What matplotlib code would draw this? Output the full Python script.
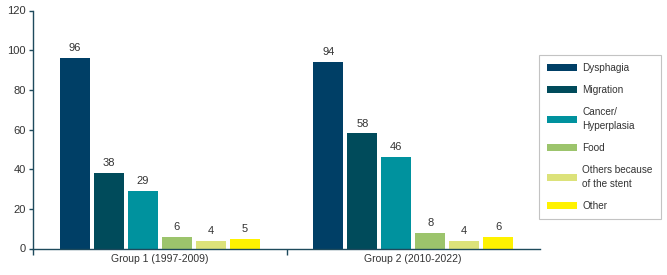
import matplotlib
matplotlib.use("Agg")
import numpy as np
import matplotlib.pyplot as plt

plt.rcParams["font.family"] = ["Liberation Sans", "DejaVu Sans"]

GROUPS = ["Group 1 (1997-2009)", "Group 2 (2010-2022)"]
CAUSES = ["Dysphagia", "Migration", "Cancer/\nHyperplasia", "Food",
          "Others because\nof the stent", "Other"]
VALUES = {
    "Dysphagia": [96, 94],
    "Migration": [38, 58],
    "Cancer/\nHyperplasia": [29, 46],
    "Food": [6, 8],
    "Others because\nof the stent": [4, 4],
    "Other": [5, 6],
}
COLORS = ["#003F66", "#004B5B", "#00929E", "#9CC46C", "#DCE27A", "#FFF200"]
AXIS_C = "#1E4A5C"
TEXT_C = "#333333"

fig = plt.figure(figsize=(6.67, 2.75), dpi=100)
ax = fig.add_axes([33 / 667, 1 - 248.5 / 275, 507 / 667, 238 / 275])

x = np.arange(len(GROUPS))
pitch, width = 0.134, 0.118
for i, (cause, color) in enumerate(zip(CAUSES, COLORS)):
    vals = VALUES[cause]
    bars = ax.bar(x + (i - 2.5) * pitch, vals, width, color=color, label=cause)
    for b, v in zip(bars, vals):
        ax.annotate(f"{v}", (b.get_x() + b.get_width() / 2, v),
                    xytext=(0, 3.5), textcoords="offset points",
                    ha="center", va="bottom", fontsize=8, color=TEXT_C)

ax.set_xlim(-0.5, 1.5)
ax.set_ylim(0, 120)
ax.set_yticks(range(0, 121, 20))
ax.set_xticks(x)
ax.set_xticklabels(GROUPS)
ax.set_xticks([-0.5, 0.5], minor=True)
ax.tick_params(axis="x", which="major", length=0, pad=4, labelsize=7.5, labelcolor=TEXT_C)
ax.tick_params(axis="x", which="minor", length=4, width=1, color=AXIS_C, direction="out")
ax.tick_params(axis="y", length=3, width=1, color=AXIS_C, labelsize=8,
               labelcolor=TEXT_C, pad=2)
for s in ["top", "right"]:
    ax.spines[s].set_visible(False)
for s in ["left", "bottom"]:
    ax.spines[s].set_color(AXIS_C)
    ax.spines[s].set_linewidth(1)

leg = fig.legend(loc="upper left", bbox_to_anchor=(539 / 667, 1 - 55 / 275),
                 fontsize=7.2, frameon=True, fancybox=False, edgecolor="#B5B5B5",
                 handlelength=3.0, handleheight=0.72, handletextpad=0.55,
                 labelspacing=1.2, borderpad=0.8, borderaxespad=0)
leg.get_frame().set_linewidth(0.8)
for t in leg.get_texts():
    t.set_color(TEXT_C)
    t.set_linespacing(1.5)

fig.savefig("out.png", dpi=100)
